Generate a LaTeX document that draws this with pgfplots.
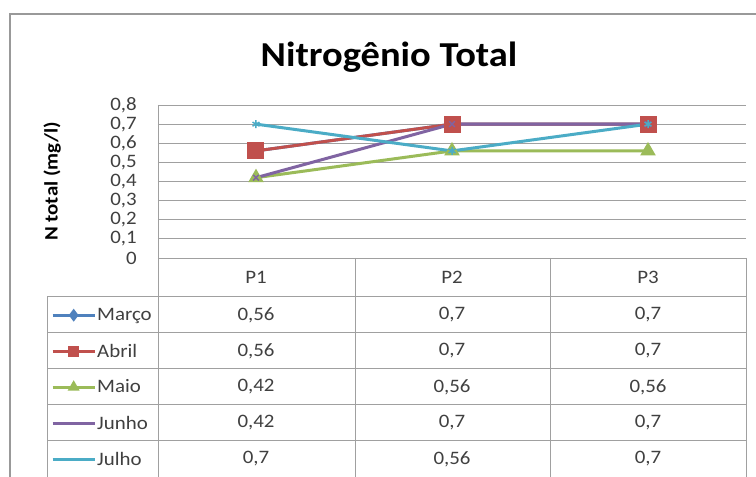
\documentclass[border=0pt]{standalone}
\usepackage{pgfplots}
\pgfplotsset{compat=1.18}
\usepackage{fontspec}
\setmainfont{Carlito}
\newfontfamily\wide[FakeStretch=1.1]{Carlito}
\definecolor{cMar}{HTML}{4F81BD}
\definecolor{cAbr}{HTML}{C0504D}
\definecolor{cMai}{HTML}{9BBB59}
\definecolor{cJun}{HTML}{8064A2}
\definecolor{cJul}{HTML}{4BACC6}
\definecolor{gridc}{HTML}{A0A0A0}
\definecolor{txt}{HTML}{404040}
\begin{document}
\begin{tikzpicture}[x=1pt,y=1pt]
\useasboundingbox (0,0) rectangle (756,477);
\clip (0,0) rectangle (756,477);
\fill[white] (0,0) rectangle (756,477);
% outer chart border
\draw[gray!80,line width=1.2pt] (10,-5) -- (10,463) -- (760,463);
% title
\node[font=\fontsize{35}{38}\selectfont\wide\bfseries] at (389,420) {Nitrogênio Total};
\begin{axis}[
  at={(158pt,219pt)}, anchor=south west,
  scale only axis, width=588pt, height=153pt,
  xmin=0.5, xmax=3.5, ymin=0, ymax=0.8,
  xtick=\empty,
  ytick={0,0.1,0.2,0.3,0.4,0.5,0.6,0.7,0.8},
  yticklabel style={/pgf/number format/fixed,/pgf/number format/precision=1,/pgf/number format/use comma,/pgf/number format/assume math mode=true},
  tick label style={font=\fontsize{19}{19}\selectfont\wide, text=txt},
  yticklabel style={inner sep=0pt, xshift=-21pt, anchor=east},
  major tick length=0pt,
  ymajorgrids, grid style={gridc, line width=1pt},
  axis line style={draw=none},
  ylabel={\bfseries N total (mg/l)},
  ylabel style={at={(axis description cs:-0.18,0.5)}, anchor=center, font=\fontsize{19}{19}\selectfont\wide},
  clip=false,
  legend style={at={(axis description cs:-0.182,-0.2549)}, anchor=north west,
    draw=none, fill=none, inner sep=0pt, row sep=0pt,
    nodes={minimum height=36pt, inner sep=1pt, font=\fontsize{19}{19}\selectfont\wide, text=txt}},
  legend cell align=left,
  legend image code/.code={\draw[mark repeat=2,mark phase=2,mark size=4pt] plot coordinates {(0pt,0pt)(21pt,0pt)(42pt,0pt)};},
  every axis plot/.append style={line width=3pt},
]
\addplot[cMar, mark=diamond*, mark size=5pt, mark options={solid}] coordinates {(1,0.56) (2,0.7) (3,0.7)};
\addlegendentry{Março}
\addplot[cAbr, mark=square*, mark size=7pt] coordinates {(1,0.56) (2,0.7) (3,0.7)};
\addlegendentry{Abril}
\addplot[cMai, mark=triangle*, mark size=6pt] coordinates {(1,0.42) (2,0.56) (3,0.56)};
\addlegendentry{Maio}
\addplot[cJun, mark=x, mark size=4pt, mark options={line width=1.5pt}, legend image post style={mark=none}] coordinates {(1,0.42) (2,0.7) (3,0.7)};
\addlegendentry{Junho}
\addplot[cJul, mark=asterisk, mark size=4pt, mark options={line width=1.5pt}, legend image post style={mark=none}] coordinates {(1,0.7) (2,0.56) (3,0.7)};
\addlegendentry{Julho}
\end{axis}
% table lines
\begin{scope}[gridc, line width=1pt]
\draw (158,372) -- (158,-5);
\draw (355,219) -- (355,-5);
\draw (550,219) -- (550,-5);
\draw (746,219) -- (746,-5);
\draw (47,180) -- (47,-5);
\foreach \yy in {180,144,108,72,36} {\draw (47,\yy) -- (746,\yy);}
\end{scope}
% table text
\begin{scope}[font=\fontsize{19}{19}\selectfont\wide, text=txt]
\node at (256,200) {P1}; \node at (452,200) {P2}; \node at (648,200) {P3};
\node at (256,162) {0,56}; \node at (452,162) {0,7}; \node at (648,162) {0,7};
\node at (256,126) {0,56}; \node at (452,126) {0,7}; \node at (648,126) {0,7};
\node at (256,90) {0,42}; \node at (452,90) {0,56}; \node at (648,90) {0,56};
\node at (256,54) {0,42}; \node at (452,54) {0,7}; \node at (648,54) {0,7};
\node at (256,18) {0,7}; \node at (452,18) {0,56}; \node at (648,18) {0,7};
\end{scope}
\end{tikzpicture}
\end{document}
